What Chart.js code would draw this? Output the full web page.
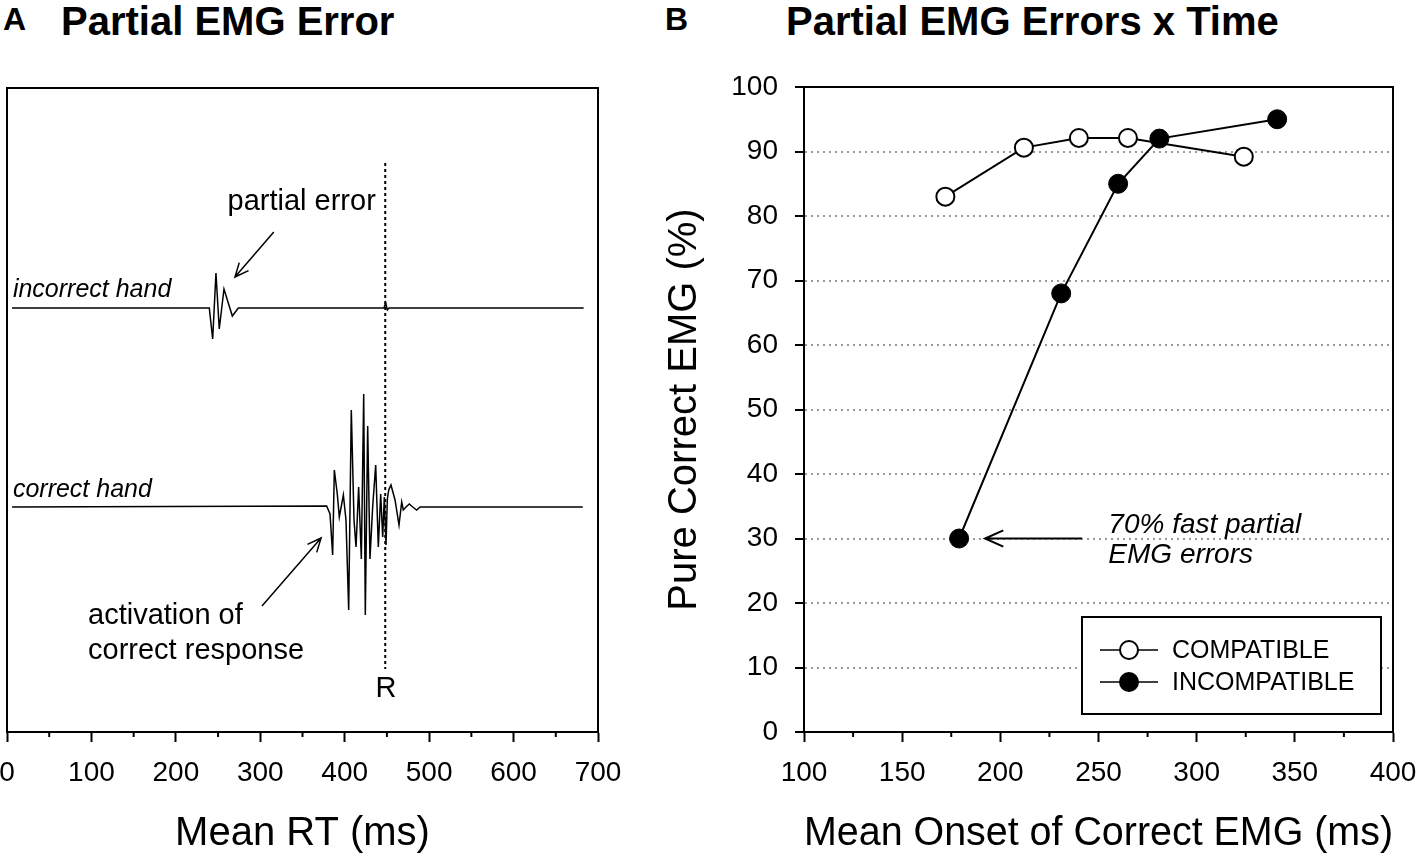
<!DOCTYPE html>
<html>
<head>
<meta charset="utf-8">
<script src="https://cdn.jsdelivr.net/npm/chart.js@4.4.1/dist/chart.umd.min.js"></script>
<style>
  body { margin:0; background:#fff; width:1418px; height:858px; position:relative; overflow:hidden;
         font-family:'Liberation Sans', Arial, sans-serif; color:#000; }
  canvas { position:absolute; top:0; }
  #chartA { left:0; }
  #chartB { left:640px; }
  .hd { position:absolute; font-weight:bold; white-space:nowrap; }
</style>
</head>
<body>
<div class="hd" style="left:3px; top:3px; font-size:32px; line-height:32px;">A</div>
<div class="hd" style="left:61px; top:1px; font-size:40px; line-height:40px;">Partial EMG Error</div>
<div class="hd" style="left:665px; top:3px; font-size:32px; line-height:32px;">B</div>
<div class="hd" style="left:786px; top:1px; font-size:40px; line-height:40px;">Partial EMG Errors x Time</div>

<canvas id="chartA" width="640" height="858"></canvas>
<canvas id="chartB" width="778" height="858"></canvas>

<script>
// ---- panel A : EMG traces (time in ms, amplitude in arbitrary units) ----
var incorrectTime = [6, 239.6, 243.6, 247.5, 251.4, 257, 266.9, 274, 446.5, 448.5, 450.5, 452.5, 683];
var incorrectAmp  = [0, 0, -31, 35, -21, 19, -8, 0, 0, 5, -2, 0, 0];

var correctTime = [6, 378.6, 382.6, 385.7, 387.7, 391.2, 393.6, 398.4, 401.5, 404.7, 407.8, 411, 413.4,
                   416.5, 419.7, 422.5, 424.4, 427.2, 429.9, 433.1, 436.7, 439.8, 442.6, 445, 446.9,
                   448.9, 450.5, 452.1, 454.8, 459.6, 464.3, 467.5, 469.4, 472.6, 476.5, 480.5, 485.3,
                   489.2, 682];
var correctAmp = [0, 1, -7, -48, 37, 13, -10, 12, -13, -103, 97, -13, -40,
                  20, -52, 113, -108, 81, -52, 0, 42, -40, 13, -30, 10,
                  -38, 8, 17, 22, 7, -18, 5, -3, 0, 3, 0, -3,
                  0, 0];

var rtTicks = [0, 100, 200, 300, 400, 500, 600, 700];
var rtMinor = [50, 150, 250, 350, 450, 550, 650];
var responseTime = 448;

// ---- panel B : pure correct EMG vs onset ----
var seriesNames = ['COMPATIBLE', 'INCOMPATIBLE'];
var compatibleOnset = [172, 212, 240, 265, 324];
var compatiblePure  = [83, 90.6, 92.1, 92.1, 89.2];
var incompatibleOnset = [179, 231, 260, 281, 341];
var incompatiblePure  = [30, 68, 85, 92, 95];

var onsetTicks = [100, 150, 200, 250, 300, 350, 400];
var onsetMinor = [125, 175, 225, 275, 325, 375];
var pureTicks = [0, 10, 20, 30, 40, 50, 60, 70, 80, 90, 100];

// vertical placement of the two EMG channels
var channelOffset = { incorrect: 199, correct: 0 };

var FONT = "'Liberation Sans', Arial, sans-serif";
Chart.defaults.font.family = FONT;
Chart.defaults.color = '#000';

function toPoints(xs, ys, off) {
    return xs.map(function (x, i) { return { x: x, y: ys[i] + (off || 0) }; });
}

function arrow(ctx, x1, y1, x2, y2, head) {
    var a = Math.atan2(y2 - y1, x2 - x1);
    ctx.beginPath();
    ctx.moveTo(x1, y1);
    ctx.lineTo(x2, y2);
    ctx.moveTo(x2 - head * Math.cos(a - 0.42), y2 - head * Math.sin(a - 0.42));
    ctx.lineTo(x2, y2);
    ctx.lineTo(x2 - head * Math.cos(a + 0.42), y2 - head * Math.sin(a + 0.42));
    ctx.stroke();
}

var framePlugin = {
    id: 'frame',
    afterDraw: function (chart) {
        var ctx = chart.ctx, a = chart.chartArea;
        ctx.save();
        ctx.strokeStyle = '#000';
        ctx.lineWidth = 2;
        ctx.strokeRect(a.left, a.top, a.right - a.left, a.bottom - a.top);
        ctx.restore();
    }
};

function minorTicks(values, len) {
    return {
        id: 'minorTicks',
        afterDraw: function (chart) {
            var s = chart.scales.x, ctx = chart.ctx;
            ctx.save();
            ctx.strokeStyle = '#000';
            ctx.lineWidth = 2;
            values.forEach(function (v) {
                var x = s.getPixelForValue(v);
                ctx.beginPath();
                ctx.moveTo(x, s.top);
                ctx.lineTo(x, s.top + len);
                ctx.stroke();
            });
            ctx.restore();
        }
    };
}

var notesA = {
    id: 'notesA',
    afterDatasetsDraw: function (chart) {
        var ctx = chart.ctx, sx = chart.scales.x, sy = chart.scales.y;
        function px(v) { return sx.getPixelForValue(v); }
        function py(v) { return sy.getPixelForValue(v); }
        ctx.save();
        ctx.strokeStyle = '#000';
        ctx.fillStyle = '#000';

        // response marker
        ctx.lineWidth = 2;
        ctx.setLineDash([3, 3]);
        ctx.beginPath();
        ctx.moveTo(px(responseTime), py(344));
        ctx.lineTo(px(responseTime), py(-162));
        ctx.stroke();
        ctx.setLineDash([]);

        ctx.lineWidth = 1.5;
        arrow(ctx, px(316), py(275), px(270), py(230), 15);
        arrow(ctx, px(302), py(-99), px(372), py(-31), 15);

        ctx.textBaseline = 'alphabetic';
        ctx.font = '29px ' + FONT;
        ctx.textAlign = 'center';
        ctx.fillText('partial error', px(349), py(297));
        ctx.fillText('R', px(449), py(-190));
        ctx.textAlign = 'left';
        ctx.fillText('activation of', px(96), py(-117));
        ctx.fillText('correct response', px(96), py(-152));

        ctx.font = 'italic 25px ' + FONT;
        ctx.fillText('incorrect hand', px(7), py(210));
        ctx.fillText('correct hand', px(7), py(10));
        ctx.restore();
    }
};

var notesB = {
    id: 'notesB',
    afterDraw: function (chart) {
        var ctx = chart.ctx, sx = chart.scales.x, sy = chart.scales.y, a = chart.chartArea;
        ctx.save();
        ctx.strokeStyle = '#000';
        ctx.fillStyle = '#000';
        ctx.lineWidth = 2;
        arrow(ctx, sx.getPixelForValue(241.6), sy.getPixelForValue(30),
                   sx.getPixelForValue(192.2), sy.getPixelForValue(30), 20);

        ctx.font = 'italic 28px ' + FONT;
        ctx.textAlign = 'left';
        ctx.textBaseline = 'alphabetic';
        ctx.fillText('70% fast partial', sx.getPixelForValue(255), sy.getPixelForValue(30.85));
        ctx.fillText('EMG errors', sx.getPixelForValue(255), sy.getPixelForValue(26.2));

        // legend box
        var w = 299, h = 97;
        var left = a.right - 12 - w, top = a.bottom - 18 - h;
        ctx.fillStyle = '#fff';
        ctx.fillRect(left, top, w, h);
        ctx.lineWidth = 2;
        ctx.strokeRect(left, top, w, h);
        ctx.font = '25px ' + FONT;
        ctx.textBaseline = 'middle';
        chart.data.datasets.forEach(function (ds, i) {
            var cy = top + 33 + i * 32;
            ctx.lineWidth = 1.5;
            ctx.beginPath();
            ctx.moveTo(left + 18, cy);
            ctx.lineTo(left + 76, cy);
            ctx.stroke();
            ctx.beginPath();
            ctx.arc(left + 47, cy, 9, 0, Math.PI * 2);
            ctx.fillStyle = ds.pointBackgroundColor;
            ctx.fill();
            ctx.lineWidth = 2;
            ctx.stroke();
            ctx.fillStyle = '#000';
            ctx.fillText(ds.label, left + 90, cy + 1);
        });
        ctx.restore();
    }
};

new Chart(document.getElementById('chartA'), {
    type: 'line',
    data: {
        datasets: [
            { label: 'incorrect hand', data: toPoints(incorrectTime, incorrectAmp, channelOffset.incorrect),
              borderColor: '#000', borderWidth: 1.5, pointRadius: 0, tension: 0 },
            { label: 'correct hand', data: toPoints(correctTime, correctAmp, channelOffset.correct),
              borderColor: '#000', borderWidth: 1.5, pointRadius: 0, tension: 0 }
        ]
    },
    options: {
        responsive: false,
        animation: false,
        events: [],
        layout: { padding: { left: 7, right: 42, top: 88, bottom: 0 } },
        plugins: { legend: { display: false }, tooltip: { enabled: false } },
        scales: {
            x: {
                type: 'linear', min: 0, max: 700,
                afterBuildTicks: function (s) { s.ticks = rtTicks.map(function (v) { return { value: v }; }); },
                afterFit: function (s) { s.height = 126; s.paddingLeft = 0; s.paddingRight = 0; },
                grid: { drawOnChartArea: false, tickLength: 10, tickColor: '#000', tickWidth: 2 },
                border: { color: '#000', width: 2 },
                ticks: { font: { size: 28 }, color: '#000', padding: 14, maxRotation: 0, autoSkip: false },
                title: { display: true, text: 'Mean RT (ms)', font: { size: 40 }, color: '#000', padding: 0 }
            },
            y: { display: false, min: -225, max: 419 }
        }
    },
    plugins: [framePlugin, minorTicks(rtMinor, 5), notesA]
});

new Chart(document.getElementById('chartB'), {
    type: 'line',
    data: {
        datasets: [
            { label: seriesNames[0], data: toPoints(compatibleOnset, compatiblePure),
              borderColor: '#000', borderWidth: 2, tension: 0, order: 1,
              pointRadius: 9, pointBackgroundColor: '#fff', pointBorderColor: '#000', pointBorderWidth: 2 },
            { label: seriesNames[1], data: toPoints(incompatibleOnset, incompatiblePure),
              borderColor: '#000', borderWidth: 2, tension: 0, order: 0,
              pointRadius: 9.5, pointBackgroundColor: '#000', pointBorderColor: '#000', pointBorderWidth: 1 }
        ]
    },
    options: {
        responsive: false,
        animation: false,
        events: [],
        layout: { padding: { left: 0, right: 25, top: 87, bottom: 0 } },
        plugins: { legend: { display: false }, tooltip: { enabled: false } },
        scales: {
            x: {
                type: 'linear', min: 100, max: 400,
                afterBuildTicks: function (s) { s.ticks = onsetTicks.map(function (v) { return { value: v }; }); },
                afterFit: function (s) { s.height = 126; s.paddingLeft = 0; s.paddingRight = 0; },
                grid: { drawOnChartArea: false, tickLength: 10, tickColor: '#000', tickWidth: 2 },
                border: { color: '#000', width: 2 },
                ticks: { font: { size: 28 }, color: '#000', padding: 14, maxRotation: 0, autoSkip: false },
                title: { display: true, text: 'Mean Onset of Correct EMG (ms)', font: { size: 40 }, color: '#000', padding: 0 }
            },
            y: {
                min: 0, max: 100,
                afterBuildTicks: function (s) { s.ticks = pureTicks.map(function (v) { return { value: v }; }); },
                afterFit: function (s) { s.width = 164; s.paddingTop = 0; s.paddingBottom = 0; },
                grid: {
                    color: function (c) {
                        var v = c.tick ? c.tick.value : null;
                        return (v === 0 || v === 100) ? 'rgba(0,0,0,0)' : '#9a9a9a';
                    },
                    lineWidth: 2, tickLength: 9, tickColor: '#000', tickWidth: 2
                },
                border: { color: '#000', width: 2, dash: [2, 4] },
                ticks: { font: { size: 28 }, color: '#000', padding: 17, autoSkip: false },
                title: { display: true, text: 'Pure Correct EMG (%)', font: { size: 40 }, color: '#000',
                         padding: { top: 21, bottom: 0 } }
            }
        }
    },
    plugins: [framePlugin, minorTicks(onsetMinor, 5), notesB]
});
</script>
</body>
</html>
